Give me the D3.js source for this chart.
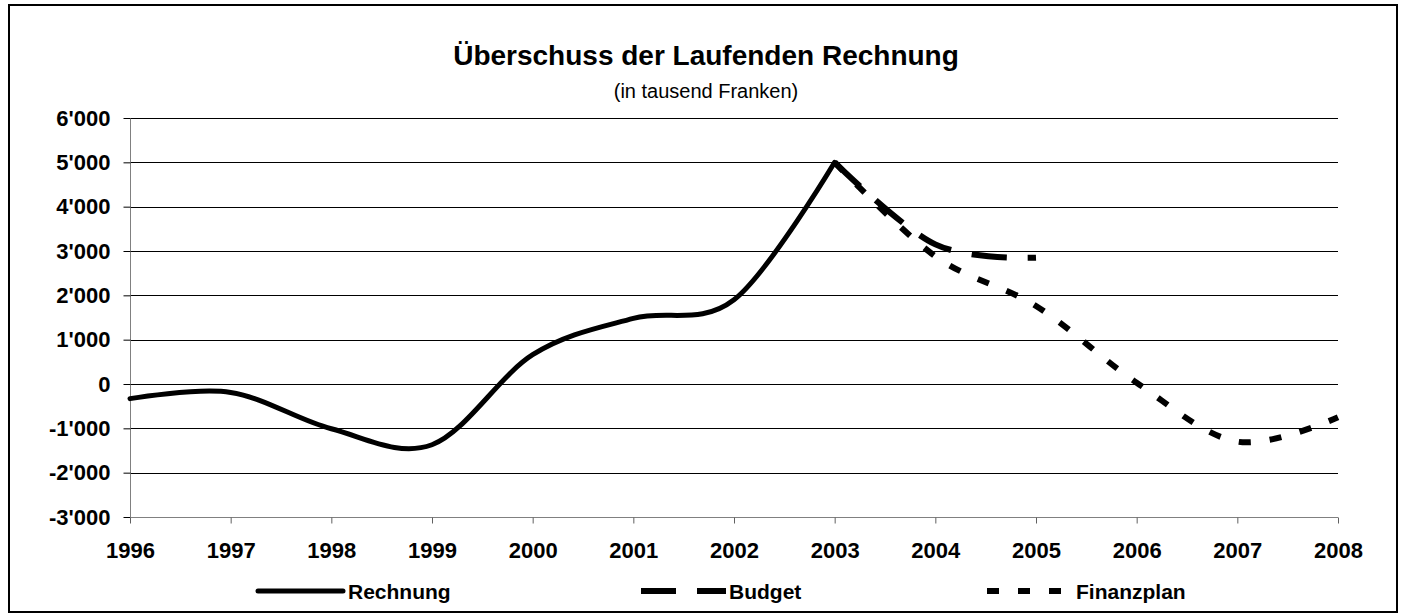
<!DOCTYPE html>
<html>
<head>
<meta charset="utf-8">
<script src="https://cdn.jsdelivr.net/npm/d3@7.9.0/dist/d3.min.js"></script>
<style>
  html, body { margin: 0; padding: 0; background: #fff; }
  svg { display: block; font-family: "Liberation Sans", Arial, sans-serif; }
</style>
</head>
<body>
<svg id="chart" width="1406" height="615"></svg>
<script>
const title = 'Überschuss der Laufenden Rechnung';
const subtitle = '(in tausend Franken)';

const years = [1996, 1997, 1998, 1999, 2000, 2001, 2002, 2003, 2004, 2005, 2006, 2007, 2008];
const yTicks = [-3000, -2000, -1000, 0, 1000, 2000, 3000, 4000, 5000, 6000];

const rechnungYears = [1996, 1997, 1998, 1999, 2000, 2001, 2002, 2003];
const rechnung = [-330, -190, -1010, -1370, 660, 1480, 1900, 5000];

const budgetYears = [2003, 2004, 2005];
const budget = [5000, 3150, 2850];

const finanzplanYears = [2003, 2004, 2005, 2006, 2007, 2008];
const finanzplan = [5000, 2880, 1760, 30, -1300, -750];

const series = [
  { name: 'Rechnung', years: rechnungYears, values: rechnung, dash: null, width: 5 },
  { name: 'Budget', years: budgetYears, values: budget, dash: '35,21', width: 6 },
  { name: 'Finanzplan', years: finanzplanYears, values: finanzplan, dash: '12,19', width: 6 },
];

const svg = d3.select('#chart');
const plot = { left: 130, right: 1338, top: 118, bottom: 517 };

const locale = d3.formatLocale({ decimal: '.', thousands: "'", grouping: [3], currency: ['', ''], minus: '-' });
const fmt = locale.format(',d');

const x = d3.scaleLinear().domain([1996, 2008]).range([plot.left, plot.right]);
const y = d3.scaleLinear().domain([-3000, 6000]).range([plot.bottom, plot.top]);

// outer frame
svg.append('rect')
  .attr('x', 9).attr('y', 5)
  .attr('width', 1388).attr('height', 607)
  .attr('fill', 'none').attr('stroke', '#000').attr('stroke-width', 2);

// titles
svg.append('text')
  .attr('x', 706).attr('y', 65)
  .attr('text-anchor', 'middle')
  .attr('font-size', 28).attr('font-weight', 'bold')
  .text(title);

svg.append('text')
  .attr('x', 706).attr('y', 98)
  .attr('text-anchor', 'middle')
  .attr('font-size', 20)
  .text(subtitle);

// gridlines
svg.append('g')
  .attr('class', 'grid')
  .selectAll('line')
  .data(yTicks.filter((d) => d !== -3000))
  .join('line')
  .attr('x1', plot.left).attr('x2', plot.right)
  .attr('y1', (d) => Math.round(y(d)) + 0.5).attr('y2', (d) => Math.round(y(d)) + 0.5)
  .attr('stroke', '#000').attr('stroke-width', 1);

// y axis
const yAxis = svg.append('g')
  .attr('transform', `translate(${plot.left + 0.5},0)`)
  .call(d3.axisLeft(y).tickValues(yTicks).tickFormat(fmt).tickSize(7).tickPadding(13));
yAxis.select('.domain').attr('stroke', '#808080').attr('d', `M0,${plot.top}V${plot.bottom}`);
yAxis.selectAll('.tick line').attr('stroke', '#000');
yAxis.selectAll('.tick text')
  .attr('font-family', '"Liberation Sans", Arial, sans-serif')
  .attr('font-size', 22).attr('font-weight', 'bold').attr('fill', '#000');

// x axis
const xAxis = svg.append('g')
  .attr('transform', `translate(0,${plot.bottom + 0.5})`)
  .call(d3.axisBottom(x).tickValues(years).tickFormat(d3.format('d')).tickSize(6).tickPadding(19));
xAxis.select('.domain').attr('stroke', '#808080').attr('d', `M${plot.left},0H${plot.right}`);
xAxis.selectAll('.tick line').attr('stroke', '#606060');
xAxis.selectAll('.tick text')
  .attr('font-family', '"Liberation Sans", Arial, sans-serif')
  .attr('font-size', 22).attr('font-weight', 'bold').attr('fill', '#000');

// lines
const line = d3.line()
  .x((d) => x(d[0]))
  .y((d) => y(d[1]))
  .curve(d3.curveCatmullRom.alpha(0));

svg.append('g')
  .selectAll('path')
  .data(series)
  .join('path')
  .attr('d', (s) => line(s.years.map((yr, i) => [yr, s.values[i]])))
  .attr('fill', 'none')
  .attr('stroke', '#000')
  .attr('stroke-width', (s) => s.width)
  .attr('stroke-dasharray', (s) => s.dash)
  .attr('stroke-linejoin', 'round')
  .attr('stroke-linecap', (s) => (s.dash ? 'butt' : 'round'));

// legend
const legendX = [258, 641, 987];
const legendTextX = [90, 88, 89];
const legendY = 591;
const legend = svg.append('g')
  .selectAll('g')
  .data(series)
  .join('g')
  .attr('transform', (d, i) => `translate(${legendX[i]},${legendY})`);

legend.append('line')
  .attr('x1', 0).attr('x2', 85)
  .attr('stroke', '#000')
  .attr('stroke-width', (s) => s.width)
  .attr('stroke-dasharray', (s) => s.dash)
  .attr('stroke-linecap', (s) => (s.dash ? 'butt' : 'round'));

legend.append('text')
  .attr('x', (s, i) => legendTextX[i])
  .attr('y', 8)
  .attr('font-size', 21).attr('font-weight', 'bold')
  .text((s) => s.name);
</script>
</body>
</html>
